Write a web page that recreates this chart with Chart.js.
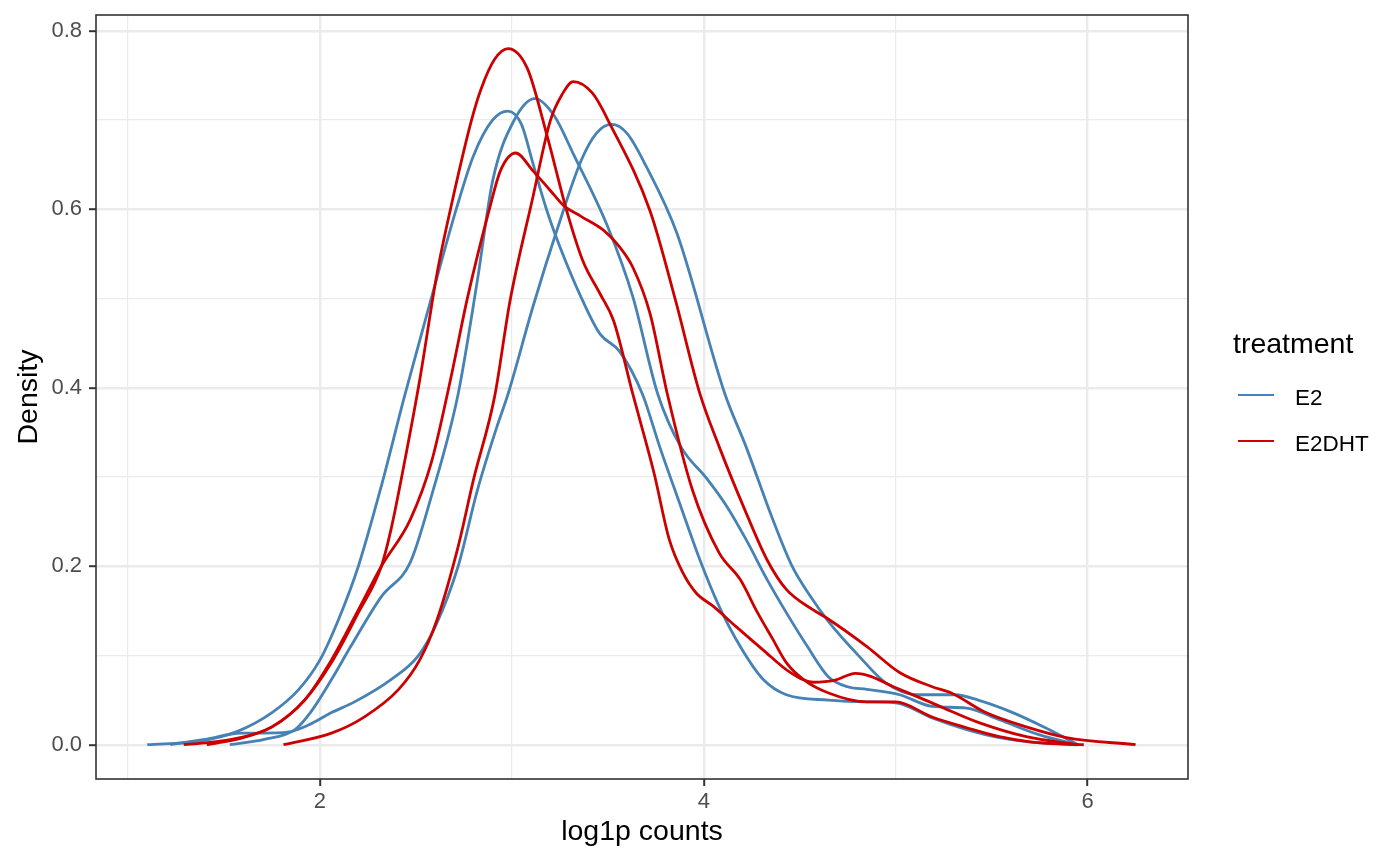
<!DOCTYPE html>
<html>
<head>
<meta charset="utf-8">
<title>log1p counts density</title>
<script src="https://cdn.jsdelivr.net/npm/chart.js@4.4.1/dist/chart.umd.min.js"></script>
<style>
    body { margin: 0; background: #fff; }
    #wrap { position: relative; width: 1400px; height: 865px; }
    #legend { position: absolute; left: 0; top: 0; font-family: 'Liberation Sans', Arial, sans-serif; color: #000; }
    #legend .title { position: absolute; left: 1233px; top: 329px; font-size: 28.5px; line-height: 28.5px; white-space: nowrap; }
    #legend .key { position: absolute; left: 1238px; width: 36px; height: 2.8px; }
    #legend .lab { position: absolute; left: 1295px; font-size: 22.5px; line-height: 22.5px; white-space: nowrap; }
</style>
</head>
<body>
<div id="wrap">
    <canvas id="density_chart" width="1400" height="865"></canvas>
    <div id="legend"></div>
</div>
<script>
// density curves, one x/y pair per sample
var e2_a_x = [1.10, 1.37, 1.57, 1.75, 1.89, 2.00, 2.10, 2.20, 2.32, 2.44, 2.58, 2.71, 2.80, 2.90, 2.98, 3.05, 3.11, 3.18, 3.25, 3.37, 3.46, 3.56, 3.68, 3.77, 3.88, 3.98, 4.08, 4.19, 4.31, 4.43, 4.65, 4.85, 5.00, 5.19, 5.37, 5.54, 5.75, 5.95]
var e2_a_y = [0, 0.004, 0.015, 0.036, 0.062, 0.095, 0.142, 0.20, 0.29, 0.39, 0.50, 0.60, 0.66, 0.70, 0.71, 0.695, 0.651, 0.60, 0.558, 0.497, 0.46, 0.441, 0.393, 0.334, 0.267, 0.207, 0.155, 0.11, 0.073, 0.056, 0.050, 0.048, 0.047, 0.030, 0.017, 0.008, 0.002, 0]

var e2_b_x = [1.53, 1.71, 1.87, 1.95, 2.06, 2.16, 2.32, 2.47, 2.58, 2.72, 2.82, 2.90, 3.01, 3.12, 3.22, 3.32, 3.50, 3.63, 3.76, 3.88, 4.02, 4.12, 4.22, 4.33, 4.43, 4.54, 4.65, 4.75, 4.85, 5.02, 5.19, 5.37, 5.54, 5.75, 5.95]
var e2_b_y = [0, 0.006, 0.017, 0.036, 0.073, 0.11, 0.166, 0.204, 0.278, 0.393, 0.52, 0.632, 0.699, 0.724, 0.705, 0.662, 0.58, 0.502, 0.393, 0.334, 0.297, 0.267, 0.23, 0.185, 0.148, 0.11, 0.076, 0.065, 0.062, 0.056, 0.043, 0.041, 0.028, 0.011, 0]

var e2_c_x = [1.22, 1.40, 1.59, 1.70, 1.83, 1.94, 2.06, 2.18, 2.37, 2.51, 2.60, 2.72, 2.82, 2.92, 2.98, 3.11, 3.24, 3.36, 3.44, 3.52, 3.60, 3.70, 3.86, 4.11, 4.22, 4.36, 4.46, 4.55, 4.65, 4.81, 4.95, 5.11, 5.31, 5.43, 5.61, 5.78, 5.95]
var e2_c_y = [0, 0.006, 0.013, 0.013, 0.014, 0.022, 0.036, 0.048, 0.073, 0.099, 0.132, 0.20, 0.285, 0.355, 0.393, 0.491, 0.58, 0.654, 0.685, 0.695, 0.685, 0.648, 0.573, 0.393, 0.334, 0.252, 0.20, 0.168, 0.138, 0.099, 0.069, 0.056, 0.056, 0.050, 0.036, 0.019, 0]

var e2dht_a_x = [1.29, 1.54, 1.75, 1.92, 2.06, 2.20, 2.32, 2.37, 2.44, 2.52, 2.61, 2.68, 2.79, 2.84, 2.91, 2.98, 3.08, 3.18, 3.29, 3.37, 3.46, 3.53, 3.63, 3.74, 3.82, 3.89, 3.96, 4.05, 4.17, 4.31, 4.45, 4.57, 4.68, 4.79, 5.02, 5.23, 5.43, 5.68, 5.95]
var e2dht_a_y = [0, 0.006, 0.02, 0.05, 0.092, 0.148, 0.20, 0.241, 0.316, 0.409, 0.528, 0.60, 0.70, 0.735, 0.768, 0.78, 0.758, 0.685, 0.595, 0.542, 0.505, 0.475, 0.393, 0.305, 0.23, 0.193, 0.17, 0.155, 0.132, 0.106, 0.081, 0.07, 0.072, 0.08, 0.062, 0.043, 0.025, 0.009, 0]

var e2dht_b_x = [1.41, 1.60, 1.75, 1.92, 2.06, 2.20, 2.32, 2.47, 2.58, 2.68, 2.77, 2.89, 2.94, 3.02, 3.11, 3.20, 3.27, 3.36, 3.48, 3.56, 3.63, 3.72, 3.81, 3.94, 4.08, 4.19, 4.28, 4.36, 4.43, 4.52, 4.65, 4.85, 5.00, 5.19, 5.37, 5.54, 5.71, 5.98]
var e2dht_b_y = [0, 0.008, 0.02, 0.05, 0.095, 0.151, 0.20, 0.252, 0.316, 0.409, 0.502, 0.606, 0.643, 0.663, 0.643, 0.621, 0.604, 0.592, 0.576, 0.558, 0.535, 0.483, 0.393, 0.286, 0.215, 0.185, 0.148, 0.118, 0.092, 0.073, 0.058, 0.048, 0.048, 0.031, 0.019, 0.009, 0.003, 0]

var e2dht_c_x = [1.81, 2.06, 2.23, 2.41, 2.52, 2.61, 2.72, 2.80, 2.91, 2.99, 3.11, 3.20, 3.26, 3.32, 3.42, 3.51, 3.72, 3.85, 3.98, 4.08, 4.22, 4.33, 4.43, 4.57, 4.64, 4.85, 5.02, 5.19, 5.29, 5.47, 5.68, 5.89, 6.25]
var e2dht_c_y = [0, 0.013, 0.031, 0.062, 0.095, 0.14, 0.222, 0.297, 0.39, 0.497, 0.614, 0.699, 0.728, 0.743, 0.73, 0.696, 0.598, 0.50, 0.393, 0.334, 0.26, 0.207, 0.174, 0.151, 0.142, 0.11, 0.081, 0.065, 0.058, 0.036, 0.02, 0.008, 0]

var treatments = ['E2', 'E2DHT']
var x_major = [2, 4, 6]
var x_minor = [1, 3, 5]
var y_major = [0, 0.2, 0.4, 0.6, 0.8]
var y_minor = [0.1, 0.3, 0.5, 0.7]
var y_labels = ['0.0', '0.2', '0.4', '0.6', '0.8']

var BLUE = '#4682B4'
var RED = '#CD0000'
var GRID = '#EBEBEB'
var INK = '#333333'

Chart.defaults.font.family = "'Liberation Sans', Arial, Helvetica, sans-serif"

function zip(xs, ys) {
    return xs.map((x, i) => ({ x: x, y: ys[i] }))
}

function curve(name, xs, ys, colour, order) {
    return {
        label: name,
        data: zip(xs, ys),
        borderColor: colour,
        backgroundColor: colour,
        borderWidth: 2.8,
        pointRadius: 0,
        fill: false,
        cubicInterpolationMode: 'monotone',
        order: order
    }
}

function is_major(list, v) {
    return list.some(m => Math.abs(m - v) < 1e-6)
}

// full ggplot style panel border, drawn over the lines
var panel_border = {
    id: 'panel_border',
    afterDatasetsDraw(chart) {
        let ctx = chart.ctx
        let a = chart.chartArea
        ctx.save()
        ctx.strokeStyle = INK
        ctx.lineWidth = 1.6
        ctx.strokeRect(a.left, a.top, a.right - a.left, a.bottom - a.top)
        ctx.restore()
    }
}

var ctx_density = document.getElementById('density_chart').getContext('2d')
var density_chart = new Chart(ctx_density, {
    type: 'line',
    data: {
        datasets: [
            curve(treatments[0], e2_a_x, e2_a_y, BLUE, 2),
            curve(treatments[0], e2_b_x, e2_b_y, BLUE, 2),
            curve(treatments[0], e2_c_x, e2_c_y, BLUE, 2),
            curve(treatments[1], e2dht_a_x, e2dht_a_y, RED, 1),
            curve(treatments[1], e2dht_b_x, e2dht_b_y, RED, 1),
            curve(treatments[1], e2dht_c_x, e2dht_c_y, RED, 1)
        ]
    },
    options: {
        responsive: false,
        animation: false,
        layout: { padding: { top: 15, right: 212, bottom: 0, left: 0 } },
        plugins: {
            legend: { display: false },
            tooltip: { enabled: false }
        },
        scales: {
            x: {
                type: 'linear',
                min: 0.833,
                max: 6.523,
                afterBuildTicks: (axis) => {
                    axis.ticks = x_minor.concat(x_major).sort((a, b) => a - b).map(v => ({ value: v }))
                },
                afterFit: (axis) => {
                    axis.height = 86
                    axis.paddingLeft = 0
                    axis.paddingRight = 0
                },
                border: { display: false },
                grid: {
                    color: GRID,
                    lineWidth: (c) => is_major(x_major, c.tick.value) ? 2.4 : 1.2,
                    tickColor: (c) => is_major(x_major, c.tick.value) ? INK : 'rgba(0,0,0,0)',
                    tickLength: 7,
                    tickWidth: 2
                },
                ticks: {
                    autoSkip: false,
                    maxRotation: 0,
                    padding: 3,
                    color: '#4D4D4D',
                    font: { size: 22 },
                    callback: (v) => is_major(x_major, v) ? String(v) : ''
                },
                title: {
                    display: true,
                    text: 'log1p counts',
                    color: '#000',
                    font: { size: 28.5 },
                    padding: { top: 0, bottom: 16 }
                }
            },
            y: {
                min: -0.0384,
                max: 0.8176,
                afterBuildTicks: (axis) => {
                    axis.ticks = y_minor.concat(y_major).sort((a, b) => a - b).map(v => ({ value: v }))
                },
                afterFit: (axis) => {
                    axis.width = 96
                    axis.paddingTop = 0
                    axis.paddingBottom = 0
                },
                border: { display: false },
                grid: {
                    color: GRID,
                    lineWidth: (c) => is_major(y_major, c.tick.value) ? 2.4 : 1.2,
                    tickColor: (c) => is_major(y_major, c.tick.value) ? INK : 'rgba(0,0,0,0)',
                    tickLength: 7,
                    tickWidth: 2
                },
                ticks: {
                    autoSkip: false,
                    padding: 7,
                    color: '#4D4D4D',
                    font: { size: 22 },
                    callback: (v) => {
                        let i = y_major.findIndex(m => Math.abs(m - v) < 1e-6)
                        return i >= 0 ? y_labels[i] : ''
                    }
                },
                title: {
                    display: true,
                    text: 'Density',
                    color: '#000',
                    font: { size: 28.5 },
                    padding: { top: 12, bottom: 0 }
                }
            }
        }
    },
    plugins: [panel_border]
})

// legend like ggplot's guide on the right
var legend = document.getElementById('legend')
let title = document.createElement('div')
title.className = 'title'
title.textContent = 'treatment'
legend.appendChild(title)
let key_rows = [395, 441]
treatments.forEach((name, i) => {
    let key = document.createElement('div')
    key.className = 'key'
    key.style.top = (key_rows[i] - 1.4) + 'px'
    key.style.background = i === 0 ? BLUE : RED
    legend.appendChild(key)
    let lab = document.createElement('div')
    lab.className = 'lab'
    lab.style.top = (key_rows[i] + 3 - 11.25) + 'px'
    lab.textContent = name
    legend.appendChild(lab)
})
</script>
</body>
</html>
